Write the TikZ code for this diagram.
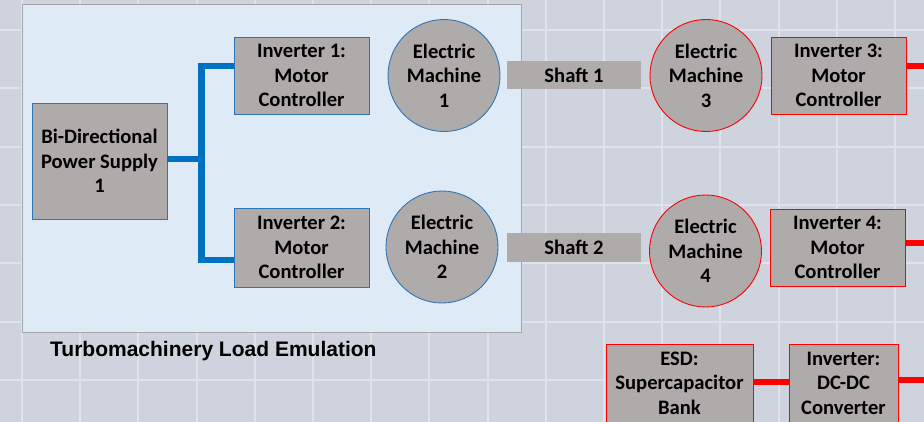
\documentclass[tikz,border=0pt]{standalone}
\usepackage{fontspec}
\setmainfont{Carlito}
\newfontfamily\arialfont{Liberation Sans}
\definecolor{bggray}{HTML}{CED3DE}
\definecolor{gridc}{HTML}{DFE3EA}
\definecolor{panelc}{HTML}{DEEAF6}
\definecolor{boxgray}{HTML}{AFABAB}
\definecolor{bborder}{HTML}{2E75B6}
\definecolor{bline}{HTML}{0070C0}
\definecolor{rline}{HTML}{FF0000}
\begin{document}
\begin{tikzpicture}[x=1pt,y=-1pt,
  boxtext/.style={font=\bfseries\fontsize{20.6}{24.5}\selectfont, align=center, text=black},
  bluebox/.style={boxtext, rectangle, fill=boxgray, draw=bborder, line width=0.9pt, inner sep=0pt},
  redbox/.style={boxtext, rectangle, fill=boxgray, draw=rline, line width=0.9pt, inner sep=0pt},
  bluecirc/.style={boxtext, circle, fill=boxgray, draw=bborder, line width=0.9pt, inner sep=0pt, minimum size=112pt},
  redcirc/.style={boxtext, circle, fill=boxgray, draw=rline, line width=0.9pt, inner sep=0pt, minimum size=112pt},
  shaftbox/.style={boxtext, rectangle, fill=boxgray, draw=none, inner sep=0pt, minimum width=134pt, minimum height=28pt},
  bluewire/.style={draw=bline, line width=6.5pt, line join=miter},
  redwire/.style={draw=rline, line width=6.5pt}
]
\useasboundingbox (0,0) rectangle (924,422);
\fill[bggray] (0,0) rectangle (924,422);
\foreach \k in {0,...,15} { \draw[gridc, line width=2pt] ({22+58.2*\k},0) -- ({22+58.2*\k},422); }
\foreach \k in {0,...,6} { \draw[gridc, line width=2pt] (0,{30+58.3*\k}) -- (924,{30+58.3*\k}); }
% panel
\draw[fill=panelc, draw=gray!70, line width=0.8pt] (22,4.5) rectangle (521,332);
\node[font=\arialfont\bfseries\fontsize{21}{24}\selectfont, anchor=west, inner sep=0pt] (title) at (50,351) {Turbomachinery Load Emulation};
% nodes
\node[bluebox, minimum width=135pt, minimum height=116pt] (bps) at (99.5,161) {Bi-Directional\\Power Supply\\1};
\node[bluebox, minimum width=135pt, minimum height=77pt] (inv1) at (301.5,75.5) {Inverter 1:\\Motor\\Controller};
\node[bluebox, minimum width=135pt, minimum height=79pt] (inv2) at (301.5,247.5) {Inverter 2:\\Motor\\Controller};
\node[bluecirc] (em1) at (444,75.5) {Electric\\Machine\\1};
\node[bluecirc] (em2) at (442,247) {Electric\\Machine\\2};
\node[shaftbox] (sh1) at (574,75) {Shaft 1};
\node[shaftbox, minimum height=29pt] (sh2) at (574,247.5) {Shaft 2};
\node[redcirc] (em3) at (706,75.5) {Electric\\Machine\\3};
\node[redcirc] (em4) at (705.5,251) {Electric\\Machine\\4};
\node[redbox, minimum width=135pt, minimum height=77pt] (inv3) at (838.5,75.5) {Inverter 3:\\Motor\\Controller};
\node[redbox, minimum width=135pt, minimum height=77pt] (inv4) at (837.5,247.5) {Inverter 4:\\Motor\\Controller};
\node[redbox, minimum width=147pt, minimum height=78pt] (esd) at (679.5,383) {ESD:\\Supercapacitor\\Bank};
\node[redbox, minimum width=109pt, minimum height=78pt] (dcdc) at (843.5,383) {Inverter:\\DC-DC\\Converter};
% free ends
\coordinate (o3) at (930,66);
\coordinate (o4) at (930,243);
\coordinate (o5) at (930,380);
% blue wires
\draw[bluewire] ([yshift=2pt]bps.east) -- ++(34,0) coordinate (jn);
\draw[bluewire] ([yshift=9.5pt]inv1.west) -| (jn) |- ([yshift=-12.5pt]inv2.west);
% red wires
\draw[redwire] ([yshift=9.5pt]inv3.east) -- (o3);
\draw[redwire] ([yshift=4.5pt]inv4.east) -- (o4);
\draw[redwire] ([yshift=1pt]esd.east) -- ([yshift=1pt]dcdc.west);
\draw[redwire] ([yshift=3pt]dcdc.east) -- (o5);
\end{tikzpicture}
\end{document}
